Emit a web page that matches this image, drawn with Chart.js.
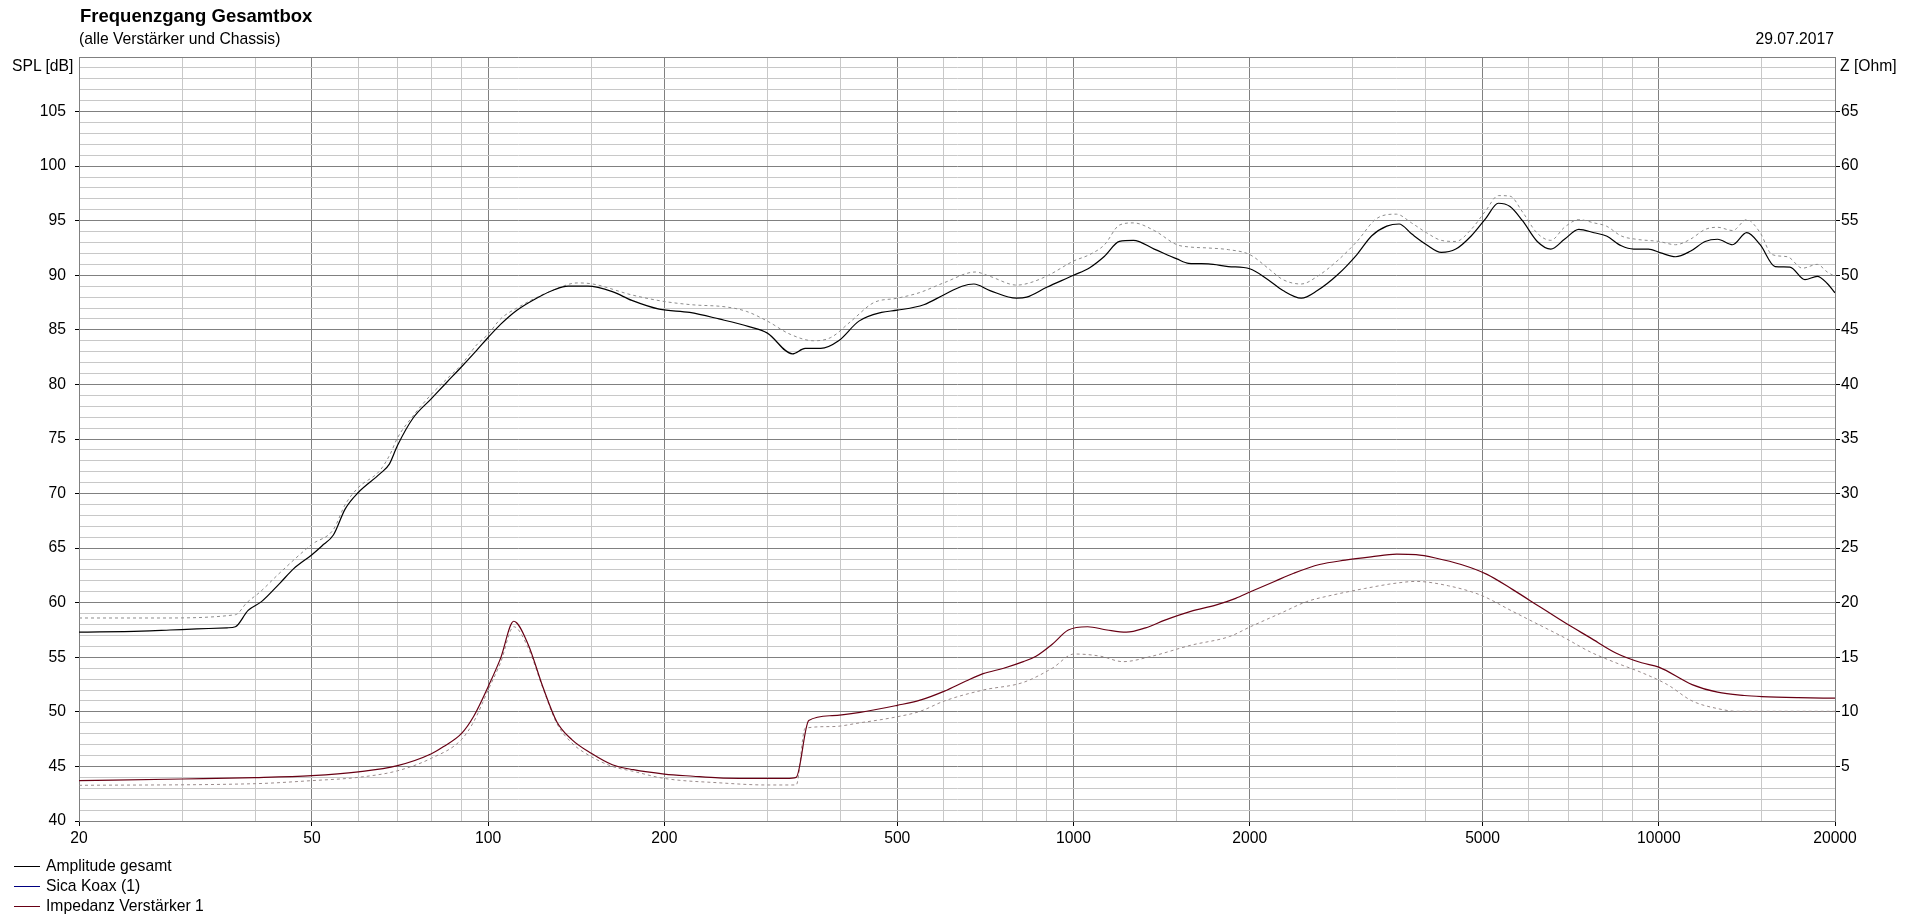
<!DOCTYPE html>
<html>
<head>
<meta charset="utf-8">
<title>Frequenzgang Gesamtbox</title>
<script src="https://cdn.jsdelivr.net/npm/chart.js@4.4.0/dist/chart.umd.min.js"></script>
<style>
  body { margin: 0; background: #fff; overflow: hidden; font-family: "Liberation Sans", Arial, sans-serif; color: #000; }
  #wrap { position: relative; width: 1908px; height: 922px; }
  #chart { position: absolute; left: 0; top: 0; }
  .txt { position: absolute; white-space: nowrap; line-height: 1; font-size: 15.7px; }
  #title { left: 80px; top: 7px; font-size: 18.5px; font-weight: bold; }
  #subtitle { left: 79px; top: 31px; }
  #date { right: 74px; top: 31px; }
  #yLeftTitle { left: 12px; top: 58px; }
  #yRightTitle { left: 1840px; top: 58px; }
  #legend { position: absolute; left: 0; top: 858px; }
  .legRow { position: relative; height: 20px; font-size: 15.7px; line-height: 1; }
  .legRow span.sample { position: absolute; left: 14px; top: 8px; width: 26px; height: 1px; }
  .legRow span.lbl { position: absolute; left: 46px; top: 0; white-space: nowrap; }
</style>
</head>
<body>
<div id="wrap">
  <canvas id="chart" width="1908" height="922"></canvas>
  <div class="txt" id="title">Frequenzgang Gesamtbox</div>
  <div class="txt" id="subtitle">(alle Verstärker und Chassis)</div>
  <div class="txt" id="date">29.07.2017</div>
  <div class="txt" id="yLeftTitle">SPL [dB]</div>
  <div class="txt" id="yRightTitle">Z [Ohm]</div>
  <div id="legend"></div>
</div>
<script>
// ---- data ----
// SPL "Amplitude gesamt" (dB)
const splFreq = [20, 25.6, 28.6, 31.8, 35.8, 37, 38.9, 41, 44.1, 46.5, 50, 52, 54.4, 57, 60, 65.3, 67.8, 70, 74.4, 80,
  85, 90, 95.5, 100, 105, 112, 121, 130, 137, 148, 163, 176, 196, 221, 248, 279, 300, 331, 348, 370,
  397, 430, 470, 500, 555, 600, 645, 676, 720, 800, 832, 900, 1000, 1066, 1130, 1198, 1266, 1374, 1502, 1574,
  1700, 1839, 2000, 2150, 2280, 2450, 2610, 2820, 3050, 3230, 3430, 3600, 3780, 4010, 4250, 4500, 4780, 5060, 5320, 5570,
  5850, 6200, 6540, 6900, 7300, 7750, 8140, 8630, 9060, 9600, 10080, 10680, 11320, 12000, 12600, 13370, 14130, 14900, 15800, 16750,
  17770, 18650, 19400, 20000];
const splTotal = [57.3, 57.4, 57.5, 57.6, 57.7, 57.8, 59.3, 60.1, 61.8, 63.1, 64.4, 65.2, 66.2, 68.6, 70.1, 71.8, 72.7, 74.4, 76.9, 78.7,
  80.2, 81.6, 83.1, 84.3, 85.5, 86.8, 87.9, 88.7, 89.0, 89.0, 88.5, 87.7, 86.9, 86.6, 86.0, 85.3, 84.7, 82.8, 83.3, 83.3,
  84.0, 85.8, 86.6, 86.8, 87.3, 88.2, 89.0, 89.2, 88.6, 87.9, 88.0, 88.9, 90.0, 90.7, 91.75, 93.1, 93.2, 92.4, 91.5, 91.1,
  91.05, 90.8, 90.6, 89.6, 88.6, 87.9, 88.6, 90.0, 91.9, 93.6, 94.5, 94.7, 93.8, 92.8, 92.1, 92.4, 93.6, 95.2, 96.6, 96.3,
  95.0, 93.1, 92.4, 93.3, 94.2, 93.9, 93.6, 92.7, 92.4, 92.4, 92.05, 91.7, 92.2, 93.1, 93.3, 92.8, 93.9, 92.8, 90.8, 90.75,
  89.6, 89.9, 89.25, 88.4];

// SPL reference curve (grey dashed, dB)
const splRefFreq = [20, 27.5, 37, 38.7, 40.8, 44.1, 50, 54.4, 57, 60, 65.3, 68, 70, 74.4, 80, 85, 90, 95.5, 100, 105,
  112, 130, 142, 151, 176, 200, 223, 255, 276, 300, 328, 360, 385, 417, 456, 500, 545, 600, 680, 720,
  800, 841, 906, 1000, 1066, 1130, 1198, 1266, 1374, 1502, 1574, 1700, 1839, 2000, 2150, 2280, 2450, 2610, 2820, 3050,
  3296, 3562, 3780, 4010, 4250, 4500, 4780, 5060, 5320, 5570, 5850, 6200, 6540, 6900, 7300, 7750, 8140, 8630, 9150, 10000,
  10680, 11320, 12000, 12600, 13370, 14130, 14900, 15610, 16580, 17600, 18650, 19400, 20000];
const splRef = [58.6, 58.6, 58.9, 60.0, 61.0, 62.75, 65.35, 66.7, 69.0, 70.55, 72.1, 73.6, 75.1, 77.1, 79.1, 80.5, 81.8, 83.6, 84.6, 86.0,
  87.0, 88.7, 89.3, 89.2, 88.2, 87.6, 87.3, 87.1, 86.7, 85.8, 84.6, 84.0, 84.3, 85.8, 87.5, 87.9, 88.4, 89.3, 90.3, 89.9,
  89.1, 89.3, 90.0, 91.3, 91.9, 92.8, 94.6, 94.8, 94.1, 92.8, 92.6, 92.5, 92.35, 91.9, 90.65, 89.6, 89.2, 89.9, 91.3, 93.1,
  95.2, 95.6, 94.8, 93.9, 93.2, 93.1, 94.2, 95.9, 97.3, 97.25, 95.8, 93.85, 93.2, 94.4, 95.1, 94.8, 94.5, 93.6, 93.3, 93.1,
  92.8, 93.3, 94.2, 94.4, 94.1, 95.1, 93.9, 91.9, 91.7, 90.65, 91.0, 90.3, 89.9];

// Impedanz Verstärker 1 (Ohm)
const impFreq = [20, 30, 40, 50, 60, 70, 80, 83.8, 90, 94.5, 100, 105, 110.6, 117, 124, 131, 139, 150, 163, 177,
  200, 224, 248, 300, 323, 336, 353, 387, 432, 500, 547, 602, 654, 701, 760, 821, 863, 920, 980, 1057,
  1141, 1231, 1328, 1433, 1586, 1755, 1893, 2006, 2205, 2379, 2632, 2913, 3223, 3566, 3848, 4153, 4596, 5087, 5630, 6231,
  6895, 7630, 8444, 9345, 10000, 11400, 12600, 14000, 15000, 17300, 20000];
const impTotal = [3.7, 3.85, 3.97, 4.15, 4.5, 5.07, 6.16, 6.8, 8.0, 9.6, 12.3, 14.9, 18.3, 16.2, 12.3, 9.1, 7.45, 6.2, 5.15, 4.7,
  4.3, 4.1, 3.95, 3.9, 3.9, 4.0, 9.2, 9.65, 9.95, 10.6, 11.07, 11.9, 12.8, 13.5, 14.0, 14.6, 15.1, 16.2, 17.5, 17.8,
  17.5, 17.3, 17.7, 18.4, 19.2, 19.8, 20.4, 21.0, 21.95, 22.7, 23.5, 23.9, 24.2, 24.45, 24.4, 24.1, 23.5, 22.6, 21.2, 19.7,
  18.2, 16.8, 15.4, 14.5, 14.1, 12.5, 11.8, 11.5, 11.4, 11.3, 11.25];

// Impedance reference curve (grey dashed, Ohm)
const impRefFreq = [20, 40, 50, 60, 70, 80, 90, 94.5, 100, 105, 110.6, 117, 124, 131, 139, 150, 163, 177, 200, 248,
  300, 336, 348, 387, 432, 500, 547, 602, 701, 821, 920, 1003, 1112, 1215, 1362, 1586, 1847, 2006, 2262, 2503,
  2770, 3143, 3566, 3848, 4371, 4960, 5630, 6231, 6895, 7630, 8444, 9345, 10340, 11400, 12600, 13600, 20000];
const impRef = [3.27, 3.42, 3.7, 4.0, 4.6, 5.75, 7.45, 9.1, 12.0, 14.5, 17.8, 15.9, 12.2, 8.95, 7.15, 5.9, 5.0, 4.55, 3.9, 3.5,
  3.3, 3.3, 8.5, 8.65, 9.0, 9.55, 10.05, 11.0, 12.0, 12.7, 14.0, 15.3, 15.1, 14.6, 15.1, 16.1, 16.9, 17.8, 19.05, 20.1,
  20.7, 21.3, 21.8, 21.95, 21.55, 20.7, 19.2, 18.0, 16.8, 15.5, 14.5, 13.6, 12.5, 11.0, 10.3, 10.05, 10.05];

// tick labels
const xGridFreqs = [20, 30, 40, 50, 60, 70, 80, 90, 100, 150, 200, 300, 400, 500, 600, 700, 800, 900,
  1000, 1500, 2000, 3000, 4000, 5000, 6000, 7000, 8000, 9000, 10000, 15000, 20000];
const xLabels = [20, 50, 100, 200, 500, 1000, 2000, 5000, 10000, 20000];
const splTicks = [40, 45, 50, 55, 60, 65, 70, 75, 80, 85, 90, 95, 100, 105];
const zTicks = [5, 10, 15, 20, 25, 30, 35, 40, 45, 50, 55, 60, 65];

const MAJOR = '#808080';
const MINOR = '#c8c8c8';
const FONT = { family: '"Liberation Sans", Arial, sans-serif', size: 15.7 };

function toXY(xs, ys) {
  return xs.map((x, i) => ({ x: x, y: ys[i] }));
}

const lineBase = { borderWidth: 1.2, pointRadius: 0, fill: false, cubicInterpolationMode: 'monotone' };

const chart = new Chart(document.getElementById('chart'), {
  type: 'line',
  data: {
    datasets: [
      Object.assign({ label: 'Amplitude gesamt', data: toXY(splFreq, splTotal), borderColor: '#000000', yAxisID: 'y', order: 1, showInLegend: true }, lineBase),
      // lies exactly under the black curve in the original, so it is not visible there
      Object.assign({ label: 'Sica Koax (1)', data: toXY(splFreq, splTotal), borderColor: '#000080', yAxisID: 'y', order: 2, hidden: true, showInLegend: true }, lineBase),
      Object.assign({ label: 'Impedanz Verstärker 1', data: toXY(impFreq, impTotal), borderColor: '#680014', yAxisID: 'y2', order: 1, showInLegend: true }, lineBase),
      Object.assign({ label: 'SPL Referenz', data: toXY(splRefFreq, splRef), borderColor: '#8c8c8c', borderDash: [3, 3], yAxisID: 'y', order: 5 }, lineBase, { borderWidth: 1 }),
      Object.assign({ label: 'Z Referenz', data: toXY(impRefFreq, impRef), borderColor: '#9a8c8c', borderDash: [3, 3], yAxisID: 'y2', order: 5 }, lineBase, { borderWidth: 1 })
    ]
  },
  options: {
    responsive: false,
    devicePixelRatio: 1,
    animation: false,
    layout: { padding: { top: 57, left: 0, right: 0, bottom: 0 } },
    plugins: { legend: { display: false }, tooltip: { enabled: false } },
    scales: {
      x: {
        type: 'logarithmic',
        min: 20,
        max: 20000,
        afterBuildTicks: (scale) => { scale.ticks = xGridFreqs.map(v => ({ value: v })); },
        afterFit: (scale) => { scale.height = 101; },
        ticks: {
          autoSkip: false, maxRotation: 0, minRotation: 0, padding: 3, color: '#000', font: FONT,
          callback: (v) => xLabels.includes(v) ? String(v) : ''
        },
        grid: {
          lineWidth: 1,
          tickLength: 5,
          color: (ctx) => (xLabels.includes(ctx.tick.value) ? MAJOR : MINOR),
          tickColor: (ctx) => (xLabels.includes(ctx.tick.value) ? '#000' : 'rgba(0,0,0,0)')
        },
        border: { color: MAJOR }
      },
      y: {
        position: 'left',
        min: 40,
        max: 110,
        afterFit: (scale) => { scale.width = 79; },
        ticks: {
          stepSize: 1, autoSkip: false, padding: 9, color: '#000', font: FONT,
          callback: (v) => splTicks.includes(v) ? String(v) : ''
        },
        grid: {
          lineWidth: 1,
          tickLength: 4,
          color: (ctx) => (ctx.tick.value % 5 === 0 ? MAJOR : MINOR),
          tickColor: (ctx) => (splTicks.includes(ctx.tick.value) ? '#000' : 'rgba(0,0,0,0)')
        },
        border: { color: MAJOR }
      },
      y2: {
        position: 'right',
        min: 0,
        max: 70,
        afterFit: (scale) => { scale.width = 73; },
        ticks: {
          stepSize: 5, autoSkip: false, padding: 1, color: '#000', font: FONT,
          callback: (v) => zTicks.includes(v) ? String(v) : ''
        },
        grid: {
          drawOnChartArea: false,
          tickLength: 5,
          tickColor: (ctx) => (zTicks.includes(ctx.tick.value) ? '#000' : 'rgba(0,0,0,0)')
        },
        border: { color: MAJOR }
      }
    }
  }
});

// legend (vertical list, bottom left)
const legend = document.getElementById('legend');
chart.data.datasets.filter(d => d.showInLegend).forEach(d => {
  const row = document.createElement('div');
  row.className = 'legRow';
  row.innerHTML = '<span class="sample" style="background:' + d.borderColor + '"></span><span class="lbl">' + d.label + '</span>';
  legend.appendChild(row);
});
</script>
</body>
</html>
